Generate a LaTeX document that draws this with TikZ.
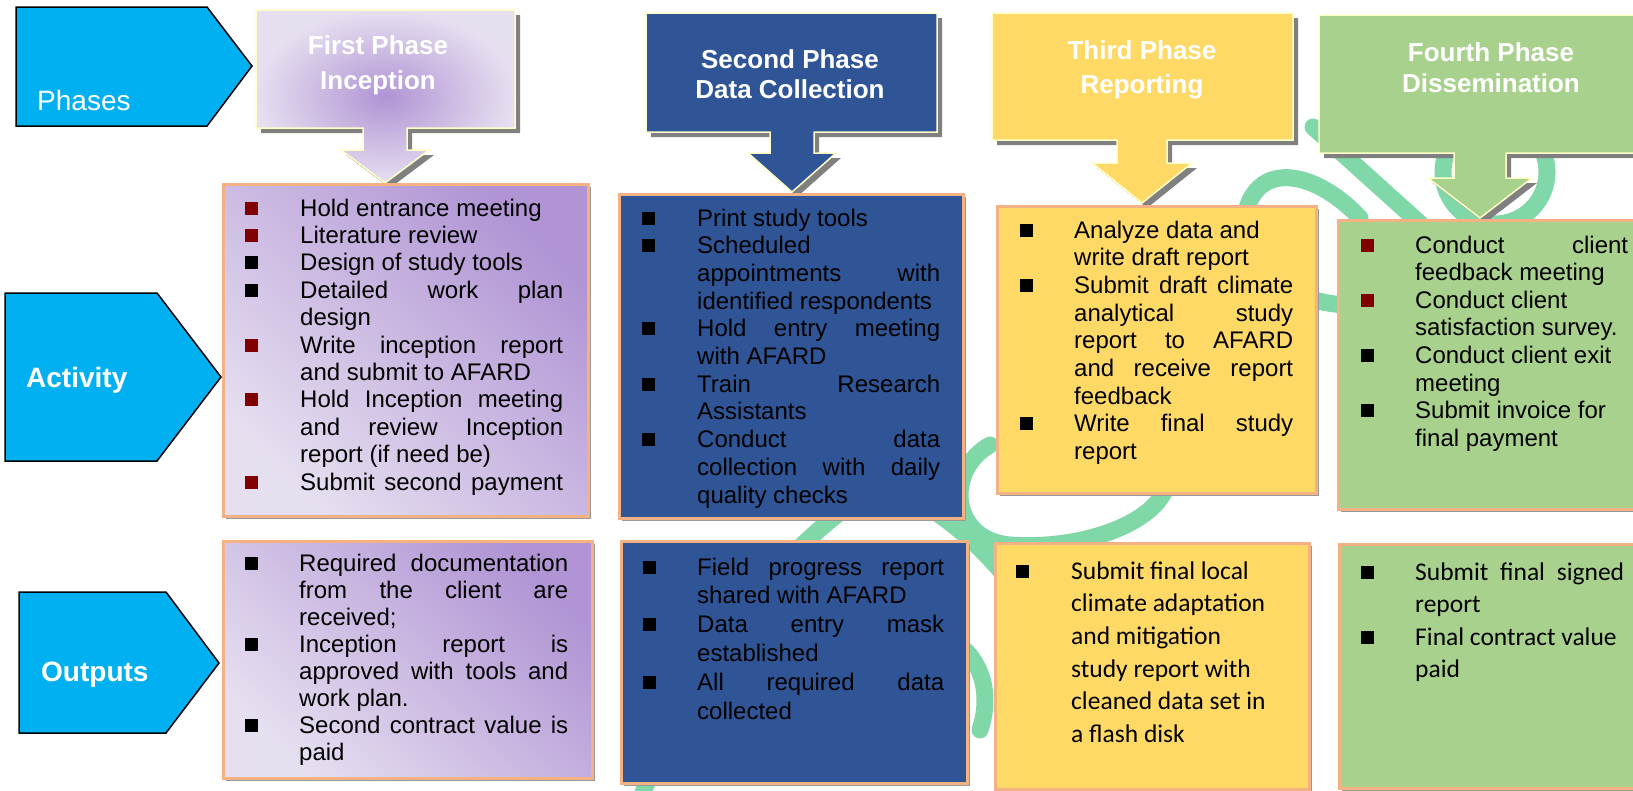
\documentclass[tikz,border=0pt]{standalone}
\usepackage{fontspec}
\setmainfont{Liberation Sans}
\newfontfamily\calfont{Carlito}
\usepackage{xcolor}
\usepackage{tikz}
\usetikzlibrary{positioning,shadows}
\definecolor{callblue}{HTML}{00B0F0}
\definecolor{navy}{HTML}{2F5597}
\definecolor{sun}{HTML}{FFD966}
\definecolor{sage}{HTML}{A9D18E}
\definecolor{lavlite}{HTML}{E6DFF0}
\definecolor{lavdark}{HTML}{B094D4}
\definecolor{hdrline}{HTML}{FFFFC8}
\definecolor{boxline}{HTML}{F4B183}
\definecolor{shadowgray}{HTML}{808080}
\definecolor{bulred}{HTML}{800000}
\definecolor{wmgreen}{HTML}{80D7A8}

% bullet lists inside the boxes
\newlength\bulx
\newlength\txtx
\newlength\txtw
\newcommand{\setcols}[3]{\setlength\bulx{#1pt}\setlength\txtx{#2pt}\setlength\txtw{#3pt}\parindent=0pt}
\newcommand{\bul}[1]{\par\noindent\hangindent=\txtx\hangafter=1\makebox[\txtx][l]{\hspace*{\bulx}\textcolor{#1}{\rule[1.5pt]{13pt}{13pt}}}\ignorespaces}
\newcommand{\jl}[1]{\makebox[\txtw][s]{#1}}
% phase box with its down arrow: style, left, top, right, bottom, arrow x, stem half width, stem end, tip
\newcommand{\phasehead}[9]{\path[hdr,#1] (#2,#3) -- (#4,#3) -- (#4,#5) -- ({#6+#7},#5) -- ({#6+#7},#8) -- ({#6+2*#7},#8) -- (#6,#9) -- ({#6-2*#7},#8) -- ({#6-#7},#8) -- ({#6-#7},#5) -- (#2,#5) -- cycle;}

\begin{document}
\begin{tikzpicture}[x=1pt, y=-1pt,
    hdr/.style={draw=hdrline, line width=1.5pt,
                drop shadow={shadow xshift=5pt, shadow yshift=-5pt, fill=shadowgray, opacity=1}},
    box/.style={draw=boxline, line width=2.5pt, inner sep=0pt, anchor=north west,
                drop shadow={shadow xshift=3pt, shadow yshift=-3pt, fill=shadowgray!80, opacity=1}},
    callout/.style={draw=black, line width=1.5pt, fill=callblue},
    calltext/.style={text=white, inner sep=0pt, anchor=base west},
    phasetext/.style={text=white, font=\bfseries\fontsize{26}{#1}\selectfont, align=center,
                      anchor=north, inner sep=0pt},
    list/.style={anchor=base west, inner sep=0pt},
    wm/.style={draw=wmgreen, line width=17pt, line cap=round}
]
  \useasboundingbox (0,0) rectangle (1633,790);
  \clip (0,0) rectangle (1633,790);

  % Watermark
  \draw[wm] (1313,127) -- (1425,228);
  \draw[wm] (1495,172) circle [radius=52];
  \draw[wm] (1360,218) .. controls (1320,175) and (1265,160) .. (1248,205) .. controls (1235,250) and (1270,300) .. (1345,305);
  \draw[wm] (990,445) .. controls (945,470) and (950,540) .. (1010,545) .. controls (1080,550) and (1150,525) .. (1165,490);
  \draw[wm] (640,800) .. controls (700,650) and (770,560) .. (870,490);
  \draw[wm] (880,480) .. controls (930,505) and (965,530) .. (1000,570);
  \draw[wm] (965,650) .. controls (985,670) and (990,700) .. (980,730);

  % Row labels
  \draw[callout] (16,7) -- (207,7) -- (252,66) -- (207,126) -- (16,126) -- cycle;
  \node[calltext, font=\fontsize{28}{30}\selectfont] (phases) at (37,110) {Phases};
  \draw[callout] (5,293) -- (157,293) -- (221,377) -- (157,461) -- (5,461) -- cycle;
  \node[calltext, font=\bfseries\fontsize{28}{30}\selectfont] (activity) at (26,387) {Activity};
  \draw[callout] (19,592) -- (166,592) -- (219,663) -- (166,733) -- (19,733) -- cycle;
  \node[calltext, font=\bfseries\fontsize{28}{30}\selectfont] (outputs) at (41,681) {Outputs};

  % Phase headers
  \phasehead{inner color=lavdark, outer color=lavlite}{256}{10}{515}{128}{385}{22}{150}{183}
  \phasehead{fill=navy}{646}{13}{937}{132}{792}{22}{153}{192}
  \phasehead{fill=sun}{992}{13}{1293}{140}{1142}{25}{163}{203}
  \phasehead{fill=sage}{1319}{15}{1700}{153}{1480}{26}{178}{218}
  \node[phasetext=35] (ph1) at (378,35) {First Phase\\Inception};
  \node[phasetext=30] (ph2) at (790,49) {Second Phase\\Data Collection};
  \node[phasetext=34] (ph3) at (1142,40) {Third Phase\\Reporting};
  \node[phasetext=31] (ph4) at (1491,42) {Fourth Phase\\Dissemination};

  % Activity boxes
  \node[box, top color=lavdark, bottom color=lavlite, shading angle=-45,
        minimum width=365pt, minimum height=332pt] (act1) at (222,183) {};
  \node[box, fill=navy, minimum width=344pt, minimum height=324pt] (act2) at (618,193) {};
  \node[box, fill=sun, minimum width=319pt, minimum height=287pt] (act3) at (996,205) {};
  \node[box, fill=sage, minimum width=320pt, minimum height=289pt] (act4) at (1337,219) {};

  \node[list] (act1txt) at (222,216) {\begin{minipage}[t]{346pt}\setcols{23}{78}{263}\fontsize{24}{27.4}\selectfont
    \bul{bulred}Hold entrance meeting
    \bul{bulred}Literature review
    \bul{black}Design of study tools
    \bul{black}\jl{Detailed work plan}\newline design
    \bul{bulred}\jl{Write inception report}\newline and submit to AFARD
    \bul{bulred}\jl{Hold Inception meeting}\newline \jl{and review Inception}\newline report (if need be)
    \bul{bulred}\jl{Submit second payment}
  \end{minipage}};
  \node[list] (act2txt) at (618,226) {\begin{minipage}[t]{326pt}\setcols{24}{79}{243}\fontsize{24}{27.7}\selectfont
    \bul{black}Print study tools
    \bul{black}Scheduled\newline \jl{appointments with}\newline identified respondents
    \bul{black}\jl{Hold entry meeting}\newline with AFARD
    \bul{black}\jl{Train Research}\newline Assistants
    \bul{black}\jl{Conduct data}\newline \jl{collection with daily}\newline quality checks
  \end{minipage}};
  \node[list] (act3txt) at (996,238) {\begin{minipage}[t]{302pt}\setcols{24}{78}{219}\fontsize{24}{27.7}\selectfont
    \bul{black}Analyze data and\newline write draft report
    \bul{black}\jl{Submit draft climate}\newline \jl{analytical study}\newline \jl{report to AFARD}\newline \jl{and receive report}\newline feedback
    \bul{black}\jl{Write final study}\newline report
  \end{minipage}};
  \node[list] (act4txt) at (1337,253) {\begin{minipage}[t]{296pt}\setcols{24}{78}{213}\fontsize{24}{27.6}\selectfont
    \bul{bulred}\jl{Conduct client}\newline feedback meeting
    \bul{bulred}Conduct client\newline satisfaction survey.
    \bul{black}Conduct client exit\newline meeting
    \bul{black}Submit invoice for\newline final payment
  \end{minipage}};

  % Output boxes
  \node[box, top color=lavdark, bottom color=lavlite, shading angle=-45,
        minimum width=369pt, minimum height=237pt] (out1) at (222,540) {};
  \node[box, fill=navy, minimum width=346pt, minimum height=242pt] (out2) at (620,540) {};
  \node[box, fill=sun, minimum width=314pt, minimum height=246pt] (out3) at (994,542) {};
  \node[box, fill=sage, minimum width=320pt, minimum height=244pt] (out4) at (1338,543) {};

  \node[list] (out1txt) at (222,571) {\begin{minipage}[t]{350pt}\setcols{23}{77}{269}\fontsize{24}{27}\selectfont
    \bul{black}\jl{Required documentation}\newline \jl{from the client are}\newline received;
    \bul{black}\jl{Inception report is}\newline \jl{approved with tools and}\newline work plan.
    \bul{black}\jl{Second contract value is}\newline paid
  \end{minipage}};
  \node[list] (out2txt) at (620,575) {\begin{minipage}[t]{328pt}\setcols{23}{77}{247}\fontsize{24}{28.8}\selectfont
    \bul{black}\jl{Field progress report}\newline shared with AFARD
    \bul{black}\jl{Data entry mask}\newline established
    \bul{black}\jl{All required data}\newline collected
  \end{minipage}};
  \node[list] (out3txt) at (994,579) {\begin{minipage}[t]{305pt}\setcols{22}{77}{225}\calfont\fontsize{25.5}{32.7}\selectfont
    \bul{black}Submit final local\newline climate adaptation\newline and mitigation\newline study report with\newline cleaned data set in\newline a flash disk
  \end{minipage}};
  \node[list] (out4txt) at (1338,580) {\begin{minipage}[t]{292pt}\setcols{23}{77}{209}\calfont\fontsize{25.5}{32.5}\selectfont
    \bul{black}\jl{Submit final signed}\newline report
    \bul{black}Final contract value\newline paid
  \end{minipage}};
\end{tikzpicture}
\end{document}
